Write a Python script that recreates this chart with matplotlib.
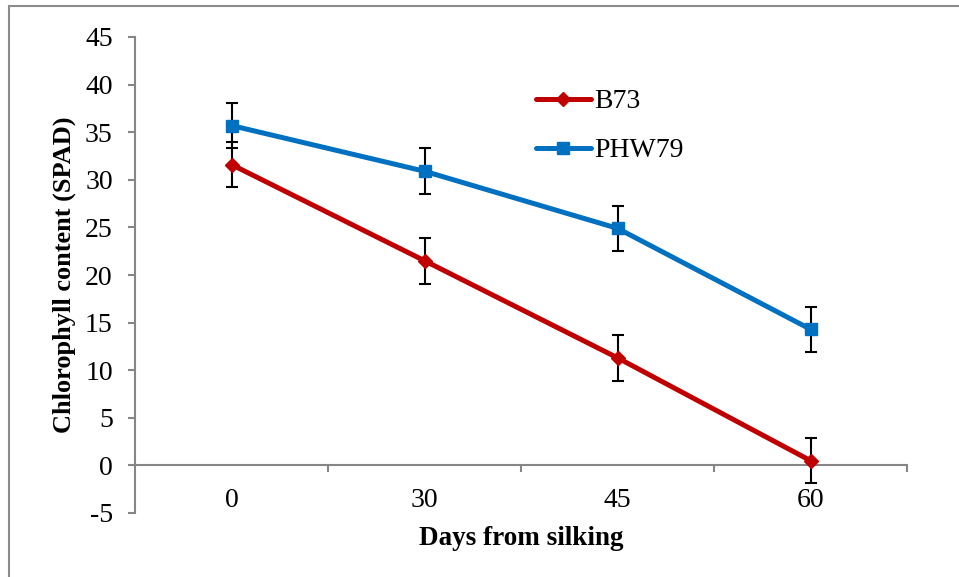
import matplotlib
matplotlib.use("Agg")
import matplotlib.pyplot as plt
from matplotlib.patches import Rectangle
from matplotlib.ticker import FixedLocator, NullFormatter, FixedFormatter

plt.rcParams["font.family"] = ["Liberation Serif", "DejaVu Serif"]
plt.rcParams["axes.unicode_minus"] = False

days = ["0", "30", "45", "60"]
b73 = [31.6, 21.5, 11.3, 0.5]
b73_err = [2.4, 2.4, 2.4, 2.4]
phw79 = [35.7, 30.9, 24.9, 14.3]
phw79_err = [2.4, 2.4, 2.4, 2.35]
y_ticks = [-5, 0, 5, 10, 15, 20, 25, 30, 35, 40, 45]

W, H = 959, 577
fig = plt.figure(figsize=(W / 100, H / 100), dpi=100)
ax = fig.add_axes([135 / W, 1 - 513 / H, 772 / W, 476 / H])

axis_gray = "#868686"
x = list(range(len(days)))

# error bars underneath the series lines
for vals, errs in ((b73, b73_err), (phw79, phw79_err)):
    ax.errorbar(x, vals, yerr=errs, fmt="none", ecolor="black",
                elinewidth=1.5, capsize=4.3, capthick=1.5, zorder=2)

ax.plot(x, b73, color="#C00000", lw=3.6, marker="D", ms=7.5,
        solid_capstyle="round", label="B73", zorder=3)
ax.plot(x, phw79, color="#0070C0", lw=3.6, marker="s", ms=8,
        solid_capstyle="round", label="PHW79", zorder=3)

ax.set_xlim(-0.5, len(days) - 0.5)
ax.set_ylim(-5, 45)

for side in ("top", "right"):
    ax.spines[side].set_visible(False)
ax.spines["left"].set_color(axis_gray)
ax.spines["left"].set_linewidth(1.5)
ax.spines["bottom"].set_position(("data", 0))
ax.spines["bottom"].set_color(axis_gray)
ax.spines["bottom"].set_linewidth(1.5)

ax.set_yticks(y_ticks)
ax.set_yticklabels([str(v) for v in y_ticks])
ax.tick_params(axis="y", direction="out", length=5, width=1.5,
               color=axis_gray, pad=11, labelsize=20)

# category boundaries carry the ticks; labels sit at the category centres
ax.xaxis.set_major_locator(FixedLocator([i + 0.5 for i in x]))
ax.xaxis.set_major_formatter(NullFormatter())
ax.xaxis.set_minor_locator(FixedLocator(x))
ax.xaxis.set_minor_formatter(FixedFormatter(days))
ax.tick_params(axis="x", which="major", direction="out", length=5,
               width=1.5, color=axis_gray)
ax.tick_params(axis="x", which="minor", length=0, pad=16, labelsize=20)

ax.set_ylabel("Chlorophyll content (SPAD)", fontsize=19, fontweight="bold")
ax.yaxis.set_label_coords(-0.076, 0.5)
ax.set_xlabel("Days from silking", fontsize=19.5, fontweight="bold")
ax.xaxis.set_label_coords(0.5, -0.028)

ax.legend(loc="upper left", bbox_to_anchor=(0.519, 0.891), frameon=False,
          fontsize=20, handlelength=2.0, handletextpad=0.12,
          labelspacing=0.85, borderaxespad=0, borderpad=0)

# outer chart frame
fig.add_artist(Rectangle((9 / W, 0 - 0.05), 1.2, 1 - 6 / H + 0.05,
                         transform=fig.transFigure, fill=False,
                         edgecolor="#8c8c8c", lw=1.5, clip_on=False))

fig.savefig("out.png", dpi=100)
